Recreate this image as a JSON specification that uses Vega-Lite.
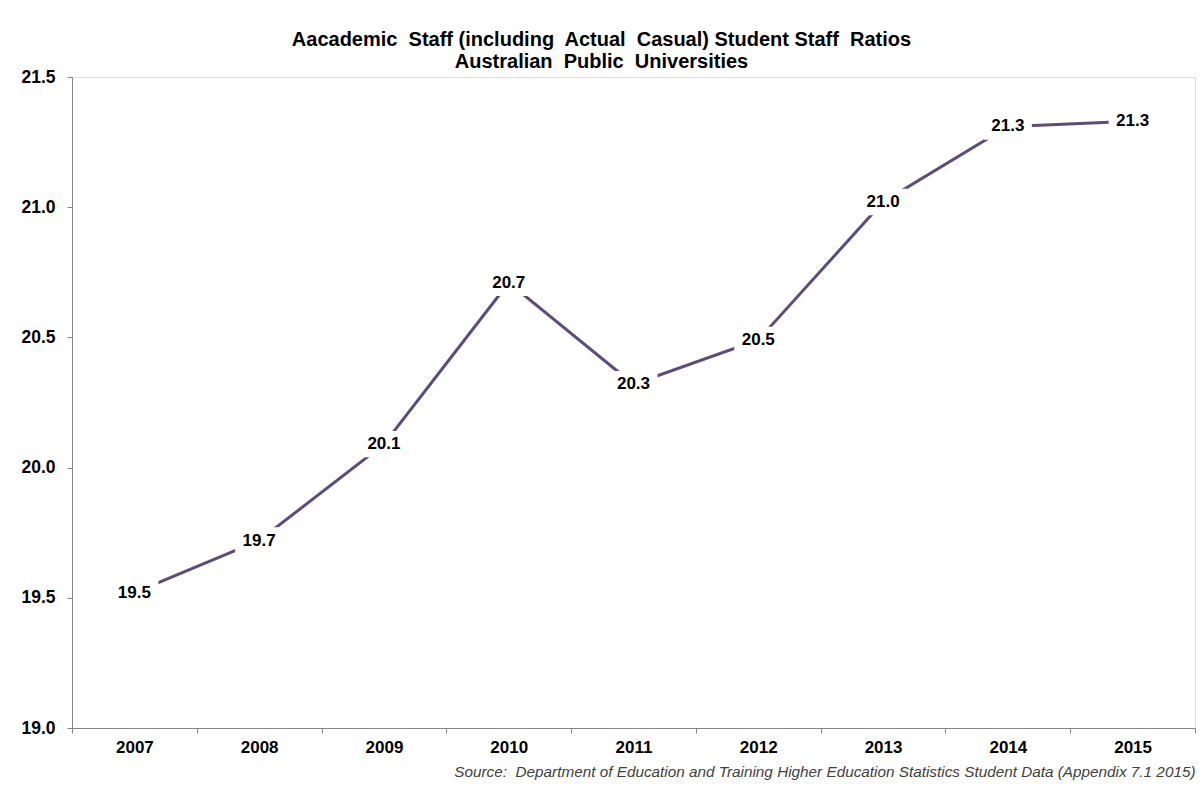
{
  "$schema": "https://vega.github.io/schema/vega-lite/v6.json",
  "autosize": {"type": "none"},
  "padding": {"left": 72, "top": 77, "right": 8, "bottom": 68},
  "width": 1123,
  "height": 651,
  "background": "white",
  "title": {
    "text": ["Aacademic\u00a0 Staff (including\u00a0 Actual\u00a0 Casual) Student Staff\u00a0 Ratios", "Australian\u00a0 Public\u00a0 Universities"],
    "anchor": "middle",
    "dx": -32,
    "offset": -4,
    "font": "Liberation Sans",
    "fontSize": 20,
    "fontWeight": "bold",
    "color": "#000000",
    "lineHeight": 22
  },
  "data": {
    "values": [
      {"year": "2007", "ratio": 19.52},
      {"year": "2008", "ratio": 19.72},
      {"year": "2009", "ratio": 20.09},
      {"year": "2010", "ratio": 20.71},
      {"year": "2011", "ratio": 20.32},
      {"year": "2012", "ratio": 20.49},
      {"year": "2013", "ratio": 21.02},
      {"year": "2014", "ratio": 21.31},
      {"year": "2015", "ratio": 21.33}
    ]
  },
  "encoding": {
    "x": {
      "field": "year",
      "type": "nominal",
      "sort": null,
      "scale": {"type": "band", "paddingInner": 0, "paddingOuter": 0},
      "axis": {
        "title": "Source:\u00a0 Department of Education and Training Higher Education Statistics Student Data (Appendix 7.1 2015)",
        "titleAnchor": "end",
        "titleFont": "Liberation Sans",
        "titleFontSize": 15.3,
        "titleFontStyle": "italic",
        "titleFontWeight": "normal",
        "titleColor": "#404040",
        "titlePadding": 9,
        "labelAngle": 0,
        "labelFont": "Liberation Sans",
        "labelFontSize": 17,
        "labelFontWeight": "bold",
        "labelColor": "#000000",
        "labelPadding": 6,
        "tickBand": "extent",
        "tickSize": 5,
        "tickColor": "#868686",
        "domainColor": "#868686",
        "grid": false
      }
    },
    "y": {
      "field": "ratio",
      "type": "quantitative",
      "scale": {"domain": [19, 21.5], "nice": false, "zero": false},
      "axis": {
        "title": null,
        "values": [19, 19.5, 20, 20.5, 21, 21.5],
        "format": ".1f",
        "labelFont": "Liberation Sans",
        "labelFontSize": 17.5,
        "labelFontWeight": "bold",
        "labelColor": "#000000",
        "labelPadding": 12,
        "tickSize": 5,
        "tickColor": "#868686",
        "domainColor": "#868686",
        "grid": false
      }
    }
  },
  "layer": [
    {"mark": {"type": "line", "color": "#5e4b7c", "strokeWidth": 3}},
    {
      "mark": {
        "type": "point",
        "shape": "M-1,-0.55H1V0.55H-1Z",
        "size": 2304,
        "filled": true,
        "fill": "white",
        "opacity": 1,
        "strokeWidth": 0
      }
    },
    {
      "mark": {
        "type": "text",
        "font": "Liberation Sans",
        "fontSize": 17,
        "fontWeight": "bold",
        "color": "#000000",
        "baseline": "middle",
        "align": "center"
      },
      "encoding": {"text": {"field": "ratio", "type": "quantitative", "format": ".1f"}}
    }
  ]
}
